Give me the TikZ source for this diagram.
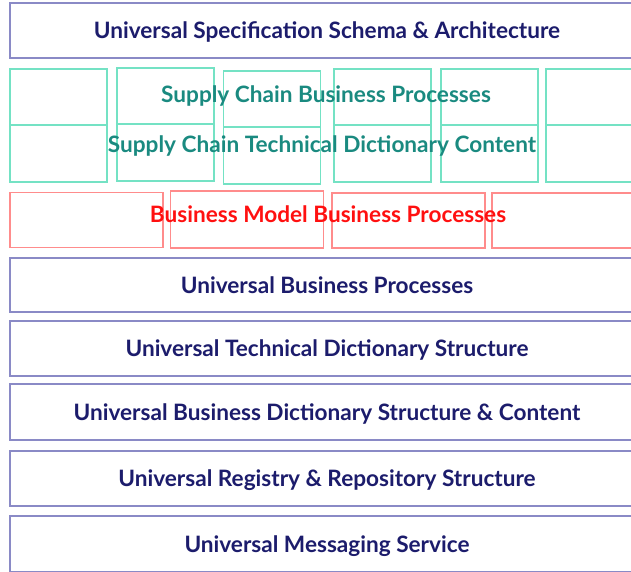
\documentclass[tikz,border=0pt]{standalone}
\usepackage{fontspec}
\setmainfont{Lato}
\definecolor{navytxt}{HTML}{1C1C6C}
\definecolor{navyline}{HTML}{8A8AC6}
\definecolor{tealtxt}{HTML}{1A8A80}
\definecolor{tealline}{HTML}{74E2C4}
\definecolor{redtxt}{HTML}{FF1010}
\definecolor{redline}{HTML}{FF8C8C}
\begin{document}
\begin{tikzpicture}[x=1pt,y=-1pt,
  lbl/.style={inner sep=0pt, anchor=base, font=\fontsize{22.6}{26}\selectfont\bfseries},
  navybox/.style={draw=navyline, line width=1.6pt, fill=white, minimum width=634pt, inner sep=0pt, text height=16.2pt, text depth=0pt, text=navytxt, font=\fontsize{22.6}{26}\selectfont\bfseries},
  tealbox/.style={draw=tealline, line width=1.6pt, minimum width=97pt, minimum height=56pt, inner sep=0pt},
  redbox/.style={draw=redline, line width=1.6pt, minimum width=153pt, minimum height=55pt, inner sep=0pt}]
\useasboundingbox (0,0) rectangle (631,571);
\clip (0,0) rectangle (631,571);
% top layer
\node[navybox, minimum height=55pt] (usa) at (327,30.5) {Universal Specification Schema \& Architecture};
% teal grid
\foreach \cx/\dy [count=\i] in {58.5/0,165.5/-1,272/2,382.5/0,489.5/0,594.5/0} {
  \node[tealbox] (ta\i) at (\cx,97+\dy) {};
  \node[tealbox, minimum height=57pt] (tb\i) at (\cx,153.5+\dy) {};
}
\node[lbl, text=tealtxt] (scbp) at (326,102) {Supply Chain Business Processes};
\node[lbl, text=tealtxt] (sctd) at (322,152) {Supply Chain Technical Dictionary Content};
% red row
\node[redbox] (rb1) at (86.5,220) {};
\node[redbox, minimum height=57.5pt] (rb2) at (247,219.5) {};
\node[redbox] (rb3) at (408.5,220.5) {};
\node[redbox] (rb4) at (568.5,220.5) {};
\node[lbl, text=redtxt] (bmbp) at (328,222) {Business Model Business Processes};
% navy layers
\node[navybox, minimum height=54pt] (ubp) at (327,285) {Universal Business Processes};
\node[navybox, minimum height=55pt] (utd) at (327,348.5) {Universal Technical Dictionary Structure};
\node[navybox, minimum height=56pt] (ubd) at (327,412) {Universal Business Dictionary Structure \& Content};
\node[navybox, minimum height=55pt] (urr) at (327,478.5) {Universal Registry \& Repository Structure};
\node[navybox, minimum height=56pt] (ums) at (327,544) {Universal Messaging Service};
\end{tikzpicture}
\end{document}
